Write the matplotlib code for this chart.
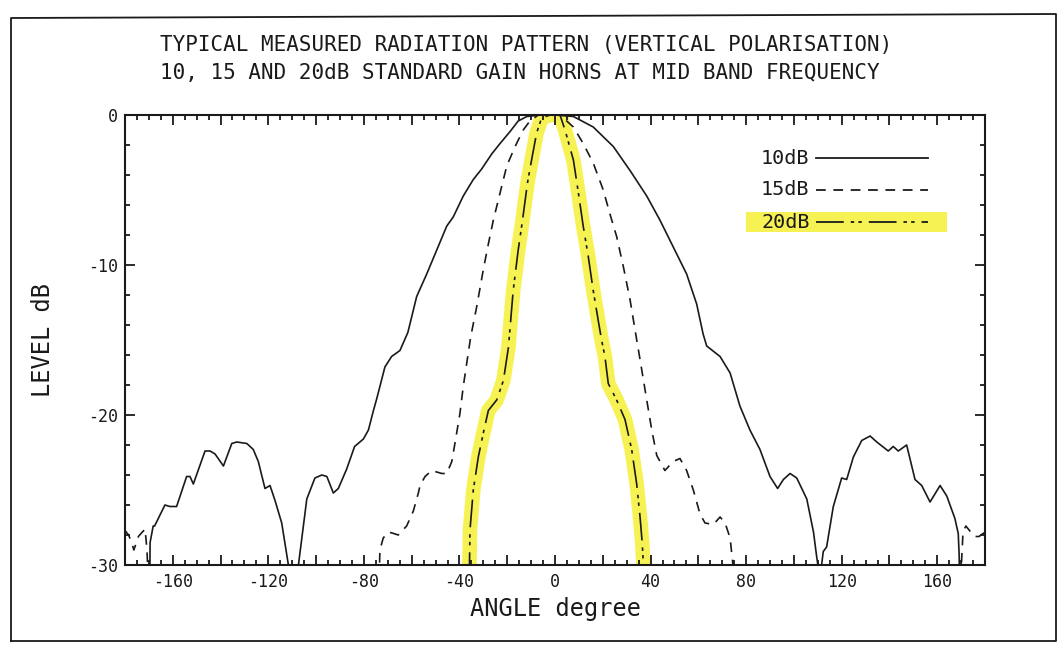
import matplotlib
matplotlib.use("Agg")
import matplotlib.pyplot as plt
from matplotlib.ticker import MultipleLocator
from matplotlib.patches import Rectangle
import numpy as np

# angle (degree), level (dB); values below -30 are clipped by the axes
ang_10 = [-169.6, -169.5, -168.2, -167.6, -163.3, -161.2, -158.4, -154.2, -152.8, -151.4,
          -146.5, -144.4, -142.3, -138.8, -135.3, -133.2, -129.0, -126.3, -124.2, -121.4,
          -119.3, -117.2, -114.4, -111.6, -111.0, -107.8, -107.4, -103.9, -100.5, -97.6,
          -95.5, -92.8, -90.7, -87.2, -83.9, -80.2, -78.1, -76.0, -74.6, -71.2,
          -68.4, -64.9, -61.6, -57.9, -53.7, -49.5, -45.3, -42.6, -38.4, -34.2,
          -30.7, -26.5, -23.0, -18.8, -15.4, -11.8, -6.3, 0.0, 7.7, 16.0,
          24.4, 31.4, 38.4, 43.9, 49.5, 55.1, 59.3, 62.0, 63.5, 69.1,
          73.3, 77.4, 81.6, 85.8, 90.0, 93.2, 95.6, 98.4, 101.2, 105.4,
          108.2, 109.5, 110.5, 111.2, 112.3, 113.7, 116.5, 120.0, 122.1, 124.9,
          128.4, 131.9, 134.7, 139.5, 141.6, 143.7, 147.2, 150.7, 153.5, 157.0,
          161.2, 164.0, 167.4, 168.8, 169.2, 169.3]
lev_10 = [-31.0, -28.5, -27.4, -27.4, -26.0, -26.1, -26.1, -24.1, -24.1, -24.6,
          -22.4, -22.4, -22.6, -23.4, -21.9, -21.8, -21.9, -22.3, -23.1, -24.9,
          -24.7, -25.7, -27.2, -30.0, -31.0, -31.0, -30.0, -25.6, -24.2, -24.0,
          -24.1, -25.2, -24.9, -23.6, -22.1, -21.6, -21.0, -19.7, -18.9, -16.8,
          -16.1, -15.7, -14.5, -12.1, -10.6, -9.0, -7.4, -6.8, -5.4, -4.3,
          -3.6, -2.6, -1.9, -1.1, -0.4, -0.1, 0.0, 0.0, -0.1, -0.8,
          -2.1, -3.7, -5.4, -7.0, -8.8, -10.6, -12.6, -14.6, -15.4, -16.1,
          -17.2, -19.4, -21.0, -22.3, -24.1, -24.9, -24.3, -23.9, -24.2, -25.6,
          -27.8, -29.4, -30.5, -30.5, -29.1, -28.8, -26.1, -24.2, -24.3, -22.8,
          -21.7, -21.4, -21.8, -22.4, -22.1, -22.4, -22.0, -24.3, -24.7, -25.8,
          -24.7, -25.4, -26.9, -27.9, -29.4, -31.0]

ang_15 = [-180.0, -178.5, -177.2, -176.3, -175.0, -174.4, -171.6, -170.8, -170.3, np.nan,
          -73.6, -73.3, -71.9, -69.8, -67.5, -65.6, -62.1, -59.3, -57.2, -56.5,
          -54.4, -51.6, -49.5, -47.4, -45.3, -43.2, -41.9, -39.8, -38.4, -37.0,
          -35.3, -32.8, -30.0, -27.9, -25.8, -23.0, -20.2, -16.7, -13.3, -10.5,
          -7.0, 0.0, 2.1, 7.7, 11.8, 16.0, 20.2, 23.0, 25.8, 28.6,
          31.4, 34.0, 35.6, 38.4, 40.5, 42.6, 46.0, 49.5, 52.3, 55.1,
          57.9, 60.7, 62.8, 66.3, 69.1, 71.2, 73.3, 74.5, 75.0, np.nan,
          169.8, 170.8, 172.0, 173.5, 175.5, 177.5, 180.0]
lev_15 = [-27.7, -28.0, -28.5, -29.0, -28.4, -28.1, -27.6, -29.0, -31.0, np.nan,
          -31.0, -29.0, -28.2, -27.8, -27.9, -28.0, -27.4, -26.4, -25.2, -24.7,
          -24.1, -23.7, -23.8, -23.9, -23.9, -23.1, -21.9, -19.9, -18.1, -16.6,
          -14.8, -12.8, -10.3, -8.6, -7.0, -5.2, -3.4, -2.1, -1.0, -0.4,
          0.0, 0.0, 0.0, -0.8, -1.9, -3.2, -5.0, -6.6, -8.1, -10.1,
          -12.3, -14.8, -16.3, -19.0, -21.0, -22.7, -23.7, -23.1, -22.9, -23.7,
          -25.0, -26.6, -27.2, -27.3, -26.8, -27.2, -28.2, -30.0, -31.0, np.nan,
          -31.0, -27.8, -27.4, -27.7, -28.1, -28.1, -27.8]

ang_20 = [-36.3, -35.8, -35.6, -34.2, -32.1, -30.0, -27.9, -24.4, -21.6, -19.5,
          -17.5, -15.4, -13.5, -11.5, -9.8, -7.7, -5.6, -2.1, 0.0, 2.1,
          4.2, 7.7, 9.8, 11.8, 13.9, 16.0, 18.1, 19.5, 20.9, 22.3,
          25.8, 29.3, 32.1, 34.2, 35.6, 36.5, 37.0, 37.2]
lev_20 = [-31.0, -30.0, -27.7, -25.0, -22.8, -21.2, -19.7, -19.0, -17.7, -15.5,
          -11.7, -9.0, -6.9, -4.5, -3.0, -1.2, -0.2, 0.0, 0.0, 0.0,
          -1.0, -3.0, -5.2, -7.4, -9.4, -11.7, -13.7, -15.0, -16.1, -17.9,
          -19.0, -20.3, -22.3, -24.6, -26.8, -28.5, -30.0, -31.0]

series_names = ["10dB", "15dB", "20dB"]
title_lines = ["TYPICAL MEASURED RADIATION PATTERN (VERTICAL POLARISATION)",
               "10, 15 AND 20dB STANDARD GAIN HORNS AT MID BAND FREQUENCY"]
y_ticks = [0, -10, -20, -30]

plt.rcParams['font.family'] = ['DejaVu Sans Mono', 'DejaVu Sans']
plt.rcParams['axes.unicode_minus'] = False
plt.rcParams['lines.scale_dashes'] = False

ink = '#1a1a1a'
marker_yellow = '#f6f140'
dash_15 = (0, (7, 5.5))
dash_20 = (0, (20, 5, 2.5, 3, 2.5, 5))

fig = plt.figure(figsize=(10.59, 6.58), dpi=100)
ax = fig.add_axes([125/1059, 1-565/658, 860/1059, 450/658])

# highlighter pen over the 20dB trace
ax.plot(ang_20, lev_20, color=marker_yellow, lw=10.5, alpha=0.9, solid_capstyle='butt', zorder=1)

ax.plot(ang_10, lev_10, color=ink, lw=1.2, zorder=3)
ax.plot(ang_15, lev_15, color=ink, lw=1.2, ls=dash_15, zorder=3)
ax.plot(ang_20, lev_20, color=ink, lw=1.2, ls=dash_20, zorder=3)

ax.set_xlim(-180, 180)
ax.set_ylim(-30, 0)

xt = list(range(-180, 181, 20))
ax.set_xticks(xt)
ax.set_xticklabels([str(v) if v % 40 == 0 and abs(v) < 180 else '' for v in xt])
ax.xaxis.set_minor_locator(MultipleLocator(5))
ax.set_yticks(y_ticks)
ax.set_yticklabels([str(v) for v in y_ticks])
ax.yaxis.set_minor_locator(MultipleLocator(2))

ax.tick_params(which='both', direction='in', top=True, right=True, color=ink, width=1.3)
ax.tick_params(which='major', length=7, labelsize=12, labelcolor=ink)
ax.tick_params(axis='x', which='major', pad=6)
ax.tick_params(axis='y', which='major', pad=5)
ax.tick_params(which='minor', length=3.5)
for s in ax.spines.values():
    s.set_linewidth(1.5)
    s.set_color(ink)

ax.set_xlabel("ANGLE degree", fontsize=17, color=ink, labelpad=4)
ax.set_ylabel("LEVEL dB", fontsize=17, color=ink, labelpad=24)

# legend drawn as in the original plotter layout: label, then line sample
ax.add_patch(Rectangle((0.722, 0.740), 0.234, 0.044, transform=ax.transAxes,
                       color=marker_yellow, alpha=0.9, lw=0, zorder=1))
leg_y = [0.904, 0.834, 0.762]
leg_ls = ['-', dash_15, dash_20]
for name, yy, ls in zip(series_names, leg_y, leg_ls):
    ax.text(0.796, yy, name, transform=ax.transAxes, ha='right', va='center',
            fontsize=14.5, color=ink, zorder=4)
    ax.plot([0.803, 0.934], [yy, yy], transform=ax.transAxes, color=ink, lw=1.3,
            ls=ls, zorder=4)

fig.text(160/1059, 1-45/658, title_lines[0], fontsize=15, color=ink, va='center')
fig.text(160/1059, 1-73/658, title_lines[1], fontsize=15, color=ink, va='center')

# sheet frame
fig.add_artist(plt.Line2D([11/1059, 11/1059, 1056/1059, 1056/1059, 11/1059],
                          [1-641/658, 1-18/658, 1-14/658, 1-641/658, 1-641/658],
                          transform=fig.transFigure, color=ink, lw=1.3))

fig.savefig("out.png", dpi=100)
